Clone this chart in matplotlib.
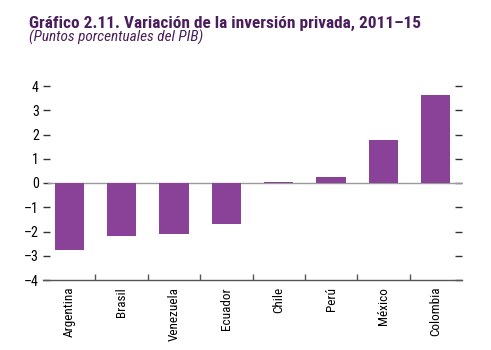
import matplotlib
matplotlib.use("Agg")
import matplotlib.pyplot as plt
from matplotlib import font_manager
import numpy as np

categories = ["Argentina", "Brasil", "Venezuela", "Ecuador", "Chile", "Perú", "México", "Colombia"]
values = [-2.77, -2.18, -2.1, -1.7, 0.05, 0.25, 1.79, 3.63]
yticks = [-4, -3, -2, -1, 0, 1, 2, 3, 4]
title = "Gráfico 2.11. Variación de la inversión privada, 2011–15"
subtitle = "(Puntos porcentuales del PIB)"

names = {f.name for f in font_manager.fontManager.ttflist}
fam = "Liberation Sans"
for cand in ["Liberation Sans Narrow", "Roboto Condensed", "DejaVu Sans Condensed", "Arial Narrow", "Roboto"]:
    if cand in names:
        fam = cand
        break
plt.rcParams['font.family'] = [fam, 'DejaVu Sans']

fig = plt.figure(figsize=(4.91, 3.5), dpi=100)
W, H = 491, 350
x0, x1, ytop, ybot = 43, 462, 86, 280
ax = fig.add_axes([x0 / W, 1 - ybot / H, (x1 - x0) / W, (ybot - ytop) / H])

bar_color = "#8A4198"
x = np.arange(len(categories))
ax.bar(x, values, width=0.56, color=bar_color, zorder=3)
ax.axhline(0, color="#9a9a9a", lw=1.0, zorder=2, xmin=0.012)
ax.set_xlim(-0.5, len(categories) - 0.5)
ax.set_ylim(-4, 4)

for s in ["top", "left", "right"]:
    ax.spines[s].set_visible(False)
ax.spines["bottom"].set_color("#555555")
ax.spines["bottom"].set_linewidth(1.0)

renderer = fig.canvas.get_renderer()


def fit_size(text, target_px, base=10, **kw):
    t = fig.text(0, 0, text, fontsize=base, **kw)
    w = t.get_window_extent(renderer).width
    t.remove()
    return base * target_px / w


lab_size = min(fit_size("Argentina", 50), 10.5)
ylab_size = min(fit_size("\u20134", 15), 10.5)

ax.set_yticks(yticks)
ax.set_yticklabels(["\u2013%d" % abs(v) if v < 0 else str(v) for v in yticks], fontsize=ylab_size)
ax.tick_params(axis="y", direction="in", length=5, width=1, color="#333333",
               left=True, right=True, labelleft=True, labelright=False, pad=3)

ax.set_xticks(x)
ax.set_xticklabels(categories, rotation=90, fontsize=lab_size)
ax.tick_params(axis="x", length=0, pad=5)
ax.set_xticks(np.arange(0.5, len(categories) - 1, 1.0), minor=True)
ax.tick_params(axis="x", which="minor", direction="in", length=4, width=1, color="#555555")

title_color = "#4A1D5C"
ts = fit_size(title, 393, fontweight="bold")
ss = fit_size(subtitle, 174, fontstyle="italic")
fig.text(29 / W, 1 - 28 / H, title, fontsize=ts, fontweight="bold", color=title_color,
         ha="left", va="baseline")
fig.text(29 / W, 1 - 42 / H, subtitle, fontsize=ss, fontstyle="italic", color=title_color,
         ha="left", va="baseline")

fig.savefig("out.png", dpi=100)
